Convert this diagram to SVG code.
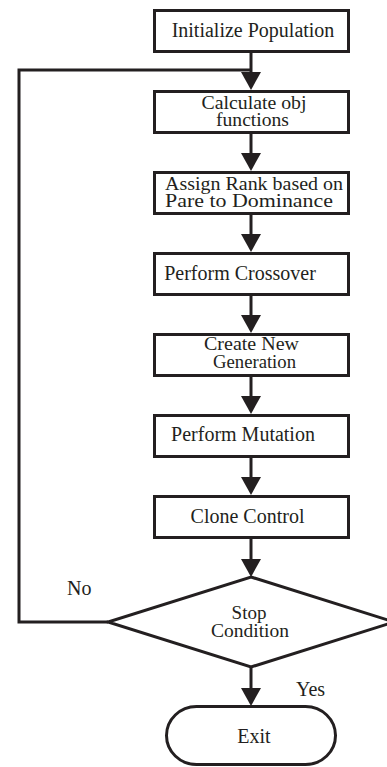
<svg xmlns="http://www.w3.org/2000/svg" width="387" height="767" viewBox="0 0 387 767">
  <style>
    .box { fill: #ffffff; stroke: #231f20; stroke-width: 3; }
    .line { fill: none; stroke: #231f20; stroke-width: 3; }
    .head { fill: #231f20; stroke: none; }
    text { font-family: "Liberation Serif", serif; font-size: 20px; fill: #231f20; }
    .c { text-anchor: middle; }
    .t { font-size: 19px; }
  </style>
  <rect width="387" height="767" fill="#ffffff"/>

  <!-- connectors -->
  <g id="connectors">
    <!-- straight flow down the column -->
    <line class="line" x1="251" y1="53" x2="251" y2="74"/>
    <polygon class="head" points="241,72 261,72 251,90"/>
    <line class="line" x1="251" y1="134" x2="251" y2="155"/>
    <polygon class="head" points="241,153 261,153 251,171"/>
    <line class="line" x1="251" y1="215" x2="251" y2="236"/>
    <polygon class="head" points="241,234 261,234 251,252"/>
    <line class="line" x1="251" y1="296" x2="251" y2="317"/>
    <polygon class="head" points="241,315 261,315 251,333"/>
    <line class="line" x1="251" y1="377" x2="251" y2="398"/>
    <polygon class="head" points="241,396 261,396 251,414"/>
    <line class="line" x1="251" y1="458" x2="251" y2="479"/>
    <polygon class="head" points="241,477 261,477 251,495"/>
    <line class="line" x1="251" y1="539" x2="251" y2="561"/>
    <polygon class="head" points="241,559 261,559 251,577"/>
    <!-- Yes branch -->
    <line class="line" x1="251" y1="667" x2="251" y2="690"/>
    <polygon class="head" points="241,688 261,688 251,706"/>
    <!-- No branch loops back -->
    <polyline class="line" points="108,622 19,622 19,70 251,70"/>
    <text x="67" y="595" font-family="Liberation Serif, serif">No</text>
    <text x="296" y="696" font-family="Liberation Serif, serif">Yes</text>
  </g>

  <g id="init">
    <rect class="box" x="154.5" y="10.5" width="194" height="41"/>
    <text class="c" x="253" y="37" font-family="Liberation Serif, serif">Initialize Population</text>
  </g>
  <g id="calc">
    <rect class="box" x="154.5" y="91.5" width="194" height="41"/>
    <text class="c t" x="254" y="109" textLength="105" lengthAdjust="spacingAndGlyphs" font-family="Liberation Serif, serif">Calculate obj</text>
    <text class="c t" x="252.5" y="126" textLength="73" lengthAdjust="spacingAndGlyphs" font-family="Liberation Serif, serif">functions</text>
  </g>
  <g id="rank">
    <rect class="box" x="154.5" y="172.5" width="194" height="41"/>
    <text class="c t" x="254" y="189.5" textLength="178" lengthAdjust="spacingAndGlyphs" font-family="Liberation Serif, serif">Assign Rank based on</text>
    <text class="c t" x="249" y="207" textLength="168" lengthAdjust="spacingAndGlyphs" font-family="Liberation Serif, serif">Pare to Dominance</text>
  </g>
  <g id="crossover">
    <rect class="box" x="154.5" y="253.5" width="194" height="41"/>
    <text class="c" x="240" y="280" font-family="Liberation Serif, serif">Perform Crossover</text>
  </g>
  <g id="generation">
    <rect class="box" x="154.5" y="334.5" width="194" height="41"/>
    <text class="c t" x="251.5" y="350" textLength="95" lengthAdjust="spacingAndGlyphs" font-family="Liberation Serif, serif">Create New</text>
    <text class="c t" x="254.5" y="368" textLength="83" lengthAdjust="spacingAndGlyphs" font-family="Liberation Serif, serif">Generation</text>
  </g>
  <g id="mutation">
    <rect class="box" x="154.5" y="415.5" width="194" height="41"/>
    <text class="c" x="243" y="441" font-family="Liberation Serif, serif">Perform Mutation</text>
  </g>
  <g id="clone">
    <rect class="box" x="154.5" y="496.5" width="194" height="41"/>
    <text class="c" x="247.5" y="522.5" font-family="Liberation Serif, serif">Clone Control</text>
  </g>
  <g id="stop">
    <polygon class="box" points="251,577 394,622 251,667 108,622"/>
    <text class="c t" x="249" y="618.5" font-family="Liberation Serif, serif">Stop</text>
    <text class="c t" x="250" y="636.5" textLength="78" lengthAdjust="spacingAndGlyphs" font-family="Liberation Serif, serif">Condition</text>
  </g>
  <g id="exit">
    <rect class="box" x="166.5" y="706.5" width="169" height="58" rx="30" ry="29"/>
    <text class="c" x="254" y="743" font-family="Liberation Serif, serif">Exit</text>
  </g>
</svg>
